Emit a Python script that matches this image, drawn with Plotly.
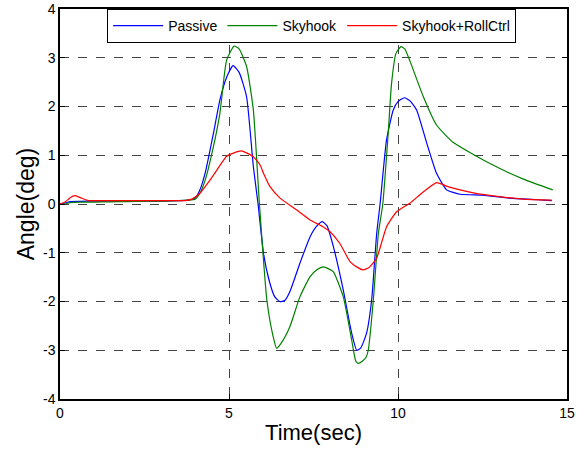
import plotly.graph_objects as go

# Passive (blue)
passive_t = [0.0, 0.15, 0.3, 0.6, 1.0, 1.5, 2.0, 2.5, 3.0, 3.5, 3.8, 4.0, 4.14, 4.3, 4.54, 4.73, 4.93, 5.12, 5.3, 5.52, 5.72, 5.86, 6.02, 6.2, 6.35, 6.5, 6.65, 6.8, 7.1, 7.4, 7.6, 7.76, 7.9, 8.09, 8.38, 8.63, 8.78, 8.9, 9.07, 9.22, 9.37, 9.47, 9.66, 9.86, 10.0, 10.19, 10.35, 10.55, 10.85, 11.14, 11.44, 11.84, 12.5, 13.3, 14.3, 14.55]
passive_y = [0.0, 0.02, 0.05, 0.055, 0.06, 0.06, 0.06, 0.06, 0.06, 0.07, 0.08, 0.12, 0.29, 0.65, 1.45, 2.13, 2.6, 2.84, 2.7, 2.2, 0.77, 0.0, -1.01, -1.6, -1.9, -2.0, -1.98, -1.8, -1.21, -0.67, -0.45, -0.36, -0.45, -0.88, -1.76, -2.65, -3.0, -2.95, -2.65, -1.97, -0.6, 0.0, 1.31, 1.93, 2.1, 2.18, 2.12, 1.93, 1.25, 0.63, 0.29, 0.2, 0.18, 0.12, 0.08, 0.07]

# Skyhook (green)
skyhook_t = [0.0, 0.15, 0.3, 0.6, 1.0, 1.5, 2.0, 2.5, 3.0, 3.5, 3.8, 4.0, 4.14, 4.3, 4.54, 4.73, 4.93, 5.15, 5.3, 5.52, 5.72, 5.9, 6.12, 6.3, 6.41, 6.55, 6.8, 7.1, 7.4, 7.6, 7.79, 7.95, 8.09, 8.38, 8.63, 8.75, 8.83, 8.95, 9.05, 9.12, 9.27, 9.42, 9.55, 9.71, 9.81, 9.94, 10.09, 10.2, 10.36, 10.75, 11.14, 11.64, 12.72, 13.71, 14.58]
skyhook_y = [0.0, 0.0, 0.03, 0.04, 0.04, 0.045, 0.05, 0.06, 0.06, 0.07, 0.08, 0.1, 0.22, 0.5, 1.18, 1.86, 2.95, 3.24, 3.18, 2.82, 1.93, 0.0, -1.97, -2.7, -2.96, -2.85, -2.52, -1.9, -1.49, -1.35, -1.29, -1.33, -1.39, -1.9, -2.79, -3.22, -3.27, -3.22, -3.15, -3.0, -1.97, -0.6, 0.0, 1.45, 2.48, 3.09, 3.23, 3.18, 2.92, 2.2, 1.62, 1.26, 0.83, 0.51, 0.29]

# Skyhook+RollCtrl (red)
roll_t = [0.0, 0.15, 0.3, 0.44, 0.6, 0.85, 1.2, 2.0, 3.0, 3.7, 3.9, 4.14, 4.5, 4.93, 5.15, 5.37, 5.72, 5.92, 6.02, 6.21, 6.51, 7.0, 7.4, 7.79, 7.99, 8.28, 8.58, 8.8, 8.97, 9.15, 9.37, 9.66, 9.96, 10.36, 10.7, 11.14, 11.5, 12.23, 13.0, 13.7, 14.55]
roll_y = [0.0, 0.04, 0.13, 0.17, 0.13, 0.07, 0.07, 0.07, 0.07, 0.07, 0.1, 0.22, 0.55, 0.98, 1.05, 1.09, 0.97, 0.8, 0.63, 0.36, 0.12, -0.12, -0.33, -0.47, -0.57, -0.81, -1.18, -1.3, -1.35, -1.3, -1.11, -0.47, -0.16, 0.02, 0.22, 0.44, 0.35, 0.23, 0.15, 0.1, 0.08]

x_ticks = [0, 5, 10, 15]
y_ticks = [-4, -3, -2, -1, 0, 1, 2, 3, 4]

fig = go.Figure()
fig.add_trace(go.Scatter(x=passive_t, y=passive_y, mode="lines", name="Passive",
                         line=dict(color="#0000FF", width=1.2, shape="spline", smoothing=0.5)))
fig.add_trace(go.Scatter(x=skyhook_t, y=skyhook_y, mode="lines", name="Skyhook",
                         line=dict(color="#008000", width=1.2, shape="spline", smoothing=0.5)))
fig.add_trace(go.Scatter(x=roll_t, y=roll_y, mode="lines", name="Skyhook+RollCtrl",
                         line=dict(color="#FF0000", width=1.2, shape="spline", smoothing=0.5)))

font = "Liberation Sans, Arial, sans-serif"
axis_common = dict(showline=True, linecolor="black", linewidth=1.5, mirror="ticks",
                   ticks="inside", ticklen=5, tickcolor="black", showgrid=True,
                   gridcolor="#444444", griddash="dash", gridwidth=1, zeroline=False,
                   tickfont=dict(family=font, size=14, color="black"))
fig.update_xaxes(range=[0, 15], tickvals=x_ticks, ticktext=[str(v) for v in x_ticks],
                 title=dict(text="Time(sec)", font=dict(family=font, size=22, color="black"), standoff=5),
                 **axis_common)
fig.update_yaxes(range=[-4, 4], tickvals=y_ticks, ticktext=[str(v) for v in y_ticks],
                 title=dict(text="Angle(deg)", font=dict(family=font, size=23, color="black"), standoff=2),
                 **axis_common)
fig.update_layout(
    width=587, height=450,
    margin=dict(l=60, r=20, t=9, b=51, autoexpand=False),
    plot_bgcolor="white", paper_bgcolor="white",
    font=dict(family=font, size=14, color="black"),
    legend=dict(orientation="h", x=0.093, y=1, xanchor="left", yanchor="top",
                bgcolor="white", bordercolor="black", borderwidth=1,
                itemwidth=50,
                font=dict(family=font, size=14, color="black")),
)
fig.write_html("out.html")
